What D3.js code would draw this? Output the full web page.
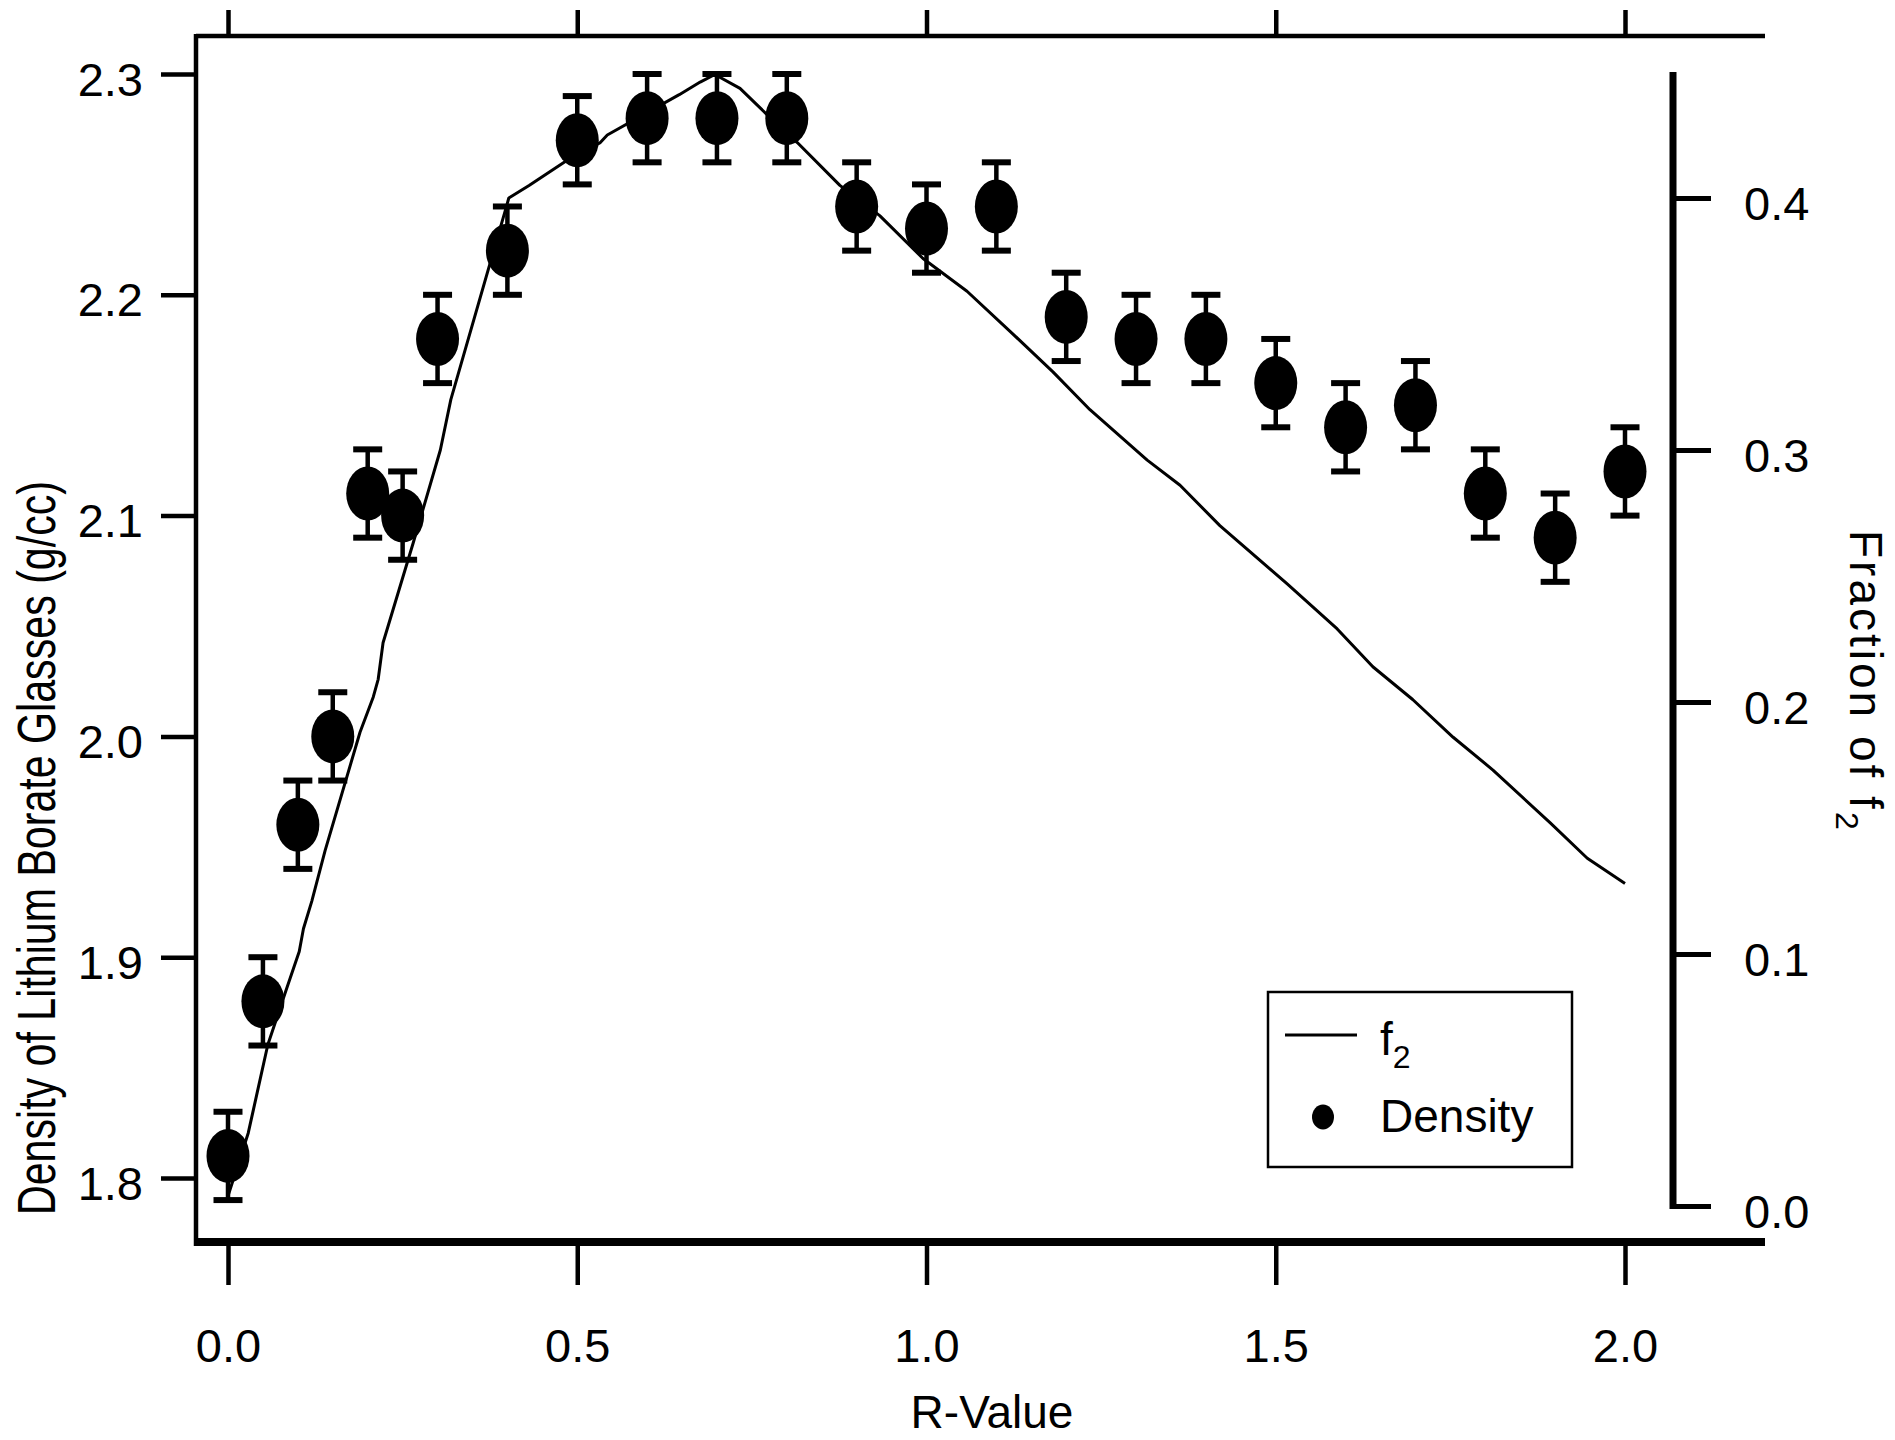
<!DOCTYPE html>
<html>
<head>
<meta charset="utf-8">
<script src="https://cdn.jsdelivr.net/npm/d3@7"></script>
<style>
  html, body { margin: 0; padding: 0; background: #fff; }
  svg { display: block; font-family: "Liberation Sans", Arial, Helvetica, sans-serif; }
</style>
</head>
<body>
<svg id="chart" width="1895" height="1440"></svg>
<script>
// ---- data ----
const xTickValues = [0.0, 0.5, 1.0, 1.5, 2.0];
const leftTickValues = [1.8, 1.9, 2.0, 2.1, 2.2, 2.3];
const rightTickValues = [0.0, 0.1, 0.2, 0.3, 0.4];

const rValues = [0.0, 0.05, 0.1, 0.15, 0.2, 0.25, 0.3, 0.4, 0.5, 0.6, 0.7, 0.8, 0.9, 1.0, 1.1, 1.2, 1.3, 1.4, 1.5, 1.6, 1.7, 1.8, 1.9, 2.0];
const densityValues = [1.81, 1.88, 1.96, 2.00, 2.11, 2.10, 2.18, 2.22, 2.27, 2.28, 2.28, 2.28, 2.24, 2.23, 2.24, 2.19, 2.18, 2.18, 2.16, 2.14, 2.15, 2.11, 2.09, 2.12];
const densityErrors = [0.02, 0.02, 0.02, 0.02, 0.02, 0.02, 0.02, 0.02, 0.02, 0.02, 0.02, 0.02, 0.02, 0.02, 0.02, 0.02, 0.02, 0.02, 0.02, 0.02, 0.02, 0.02, 0.02, 0.02];

const f2R = [0.0, 0.029, 0.057, 0.083, 0.102, 0.108, 0.120, 0.139, 0.189, 0.208, 0.215, 0.222, 0.265, 0.304, 0.319, 0.399, 0.402, 0.431, 0.491, 0.533, 0.543, 0.646, 0.676, 0.697, 0.733, 0.772, 0.815, 0.876, 0.933, 0.995, 1.058, 1.120, 1.181, 1.234, 1.316, 1.363, 1.420, 1.516, 1.588, 1.639, 1.696, 1.754, 1.811, 1.893, 1.946, 2.000];
const f2Values = [0.004, 0.029, 0.064, 0.0855, 0.101, 0.110, 0.121, 0.141, 0.188, 0.202, 0.209, 0.2235, 0.263, 0.300, 0.320, 0.397, 0.400, 0.405, 0.416, 0.422, 0.425, 0.441, 0.446, 0.449, 0.4435, 0.433, 0.422, 0.405, 0.393, 0.376, 0.363, 0.347, 0.331, 0.316, 0.296, 0.286, 0.270, 0.247, 0.229, 0.214, 0.201, 0.186, 0.173, 0.152, 0.138, 0.128];

// ---- layout ----
const frameLeft = 196, frameRight = 1765, frameTop = 36, frameBottom = 1242;
const rightAxisX = 1673;

const svg = d3.select("#chart");

const x = d3.scaleLinear().domain([0, 2]).range([228, 1625]);
const y = d3.scaleLinear().domain([1.8, 2.3]).range([1178, 74]);
const yR = d3.scaleLinear().domain([0, 0.4]).range([1206, 198]);

const fmt = d3.format(".1f");
const tickFont = 47;

// frame lines
svg.append("line").attr("x1", frameLeft).attr("x2", frameRight).attr("y1", frameTop).attr("y2", frameTop)
  .attr("stroke", "#000").attr("stroke-width", 4.5);
svg.append("line").attr("x1", frameLeft).attr("x2", frameLeft).attr("y1", frameTop - 2).attr("y2", frameBottom + 4)
  .attr("stroke", "#000").attr("stroke-width", 4.5);
svg.append("line").attr("x1", frameLeft - 2).attr("x2", frameRight).attr("y1", frameBottom).attr("y2", frameBottom)
  .attr("stroke", "#000").attr("stroke-width", 8);

// bottom axis
const gB = svg.append("g").attr("transform", `translate(0,${frameBottom})`)
  .call(d3.axisBottom(x).tickValues(xTickValues).tickFormat(fmt).tickSize(43).tickPadding(44));
// top axis
const gT = svg.append("g").attr("transform", `translate(0,${frameTop})`)
  .call(d3.axisTop(x).tickValues(xTickValues).tickFormat("").tickSize(26));
// left axis
const gL = svg.append("g").attr("transform", `translate(${frameLeft},0)`)
  .call(d3.axisLeft(y).tickValues(leftTickValues).tickFormat(fmt).tickSize(35).tickPadding(18));
// right axis
const gR = svg.append("g").attr("transform", `translate(${rightAxisX},0)`)
  .call(d3.axisRight(yR).tickValues(rightTickValues).tickFormat(fmt).tickSize(38).tickPadding(33));

[gB, gT, gL, gR].forEach(g => {
  g.select(".domain").remove();
  g.selectAll(".tick line").attr("stroke", "#000").attr("stroke-width", 4.5);
  g.selectAll(".tick text").attr("fill", "#000").style("font-size", tickFont + "px")
    .style("font-family", "'Liberation Sans', Arial, sans-serif");
});
gL.selectAll(".tick text").attr("dy", "0.45em");
gR.selectAll(".tick text").attr("dy", "0.45em");
gR.selectAll(".tick line").attr("stroke-width", 5);

// right axis line
svg.append("line").attr("x1", rightAxisX).attr("x2", rightAxisX)
  .attr("y1", yR(0) + 3).attr("y2", yR(0.45))
  .attr("stroke", "#000").attr("stroke-width", 7);

// f2 line
const f2Data = f2R.map((r, i) => ({ r, f: f2Values[i] }));
svg.append("path").datum(f2Data)
  .attr("fill", "none").attr("stroke", "#000").attr("stroke-width", 3).attr("stroke-linejoin", "round")
  .attr("d", d3.line().x(d => x(d.r)).y(d => yR(d.f)));

// density points with error bars
const pts = rValues.map((r, i) => ({ r, d: densityValues[i], e: densityErrors[i] }));
const capW = 29;
const gP = svg.append("g");
pts.forEach(p => {
  const cx = x(p.r);
  gP.append("line").attr("x1", cx).attr("x2", cx).attr("y1", y(p.d + p.e)).attr("y2", y(p.d - p.e))
    .attr("stroke", "#000").attr("stroke-width", 4.5);
  [p.d + p.e, p.d - p.e].forEach(v => {
    gP.append("line").attr("x1", cx - capW / 2).attr("x2", cx + capW / 2).attr("y1", y(v)).attr("y2", y(v))
      .attr("stroke", "#000").attr("stroke-width", 6);
  });
  gP.append("ellipse").attr("cx", cx).attr("cy", y(p.d)).attr("rx", 21.5).attr("ry", 27).attr("fill", "#000");
});

// axis titles
svg.append("text").attr("x", 992).attr("y", 1428).attr("text-anchor", "middle")
  .style("font-size", "46px").text("R-Value");

svg.append("text").attr("transform", "translate(55,848) rotate(-90)").attr("text-anchor", "middle")
  .style("font-size", "53px").attr("textLength", 734).attr("lengthAdjust", "spacingAndGlyphs")
  .text("Density of Lithium Borate Glasses (g/cc)");

const rt = svg.append("text").attr("transform", "translate(1850,530) rotate(90)")
  .style("font-size", "46px").style("letter-spacing", "3px");
rt.append("tspan").text("Fraction of f");
rt.append("tspan").attr("dy", 14).style("font-size", "32px").text("2");

// legend
const lg = svg.append("g");
lg.append("rect").attr("x", 1268).attr("y", 992).attr("width", 304).attr("height", 175)
  .attr("fill", "#fff").attr("stroke", "#000").attr("stroke-width", 2.5);
lg.append("line").attr("x1", 1285).attr("x2", 1357).attr("y1", 1035).attr("y2", 1035)
  .attr("stroke", "#000").attr("stroke-width", 3);
const lt = lg.append("text").attr("x", 1380).attr("y", 1055).style("font-size", "46px");
lt.append("tspan").text("f");
lt.append("tspan").attr("dy", 13).style("font-size", "32px").text("2");
lg.append("ellipse").attr("cx", 1323).attr("cy", 1117).attr("rx", 11).attr("ry", 12.5).attr("fill", "#000");
lg.append("text").attr("x", 1380).attr("y", 1132).style("font-size", "46px").text("Density");
</script>
</body>
</html>
